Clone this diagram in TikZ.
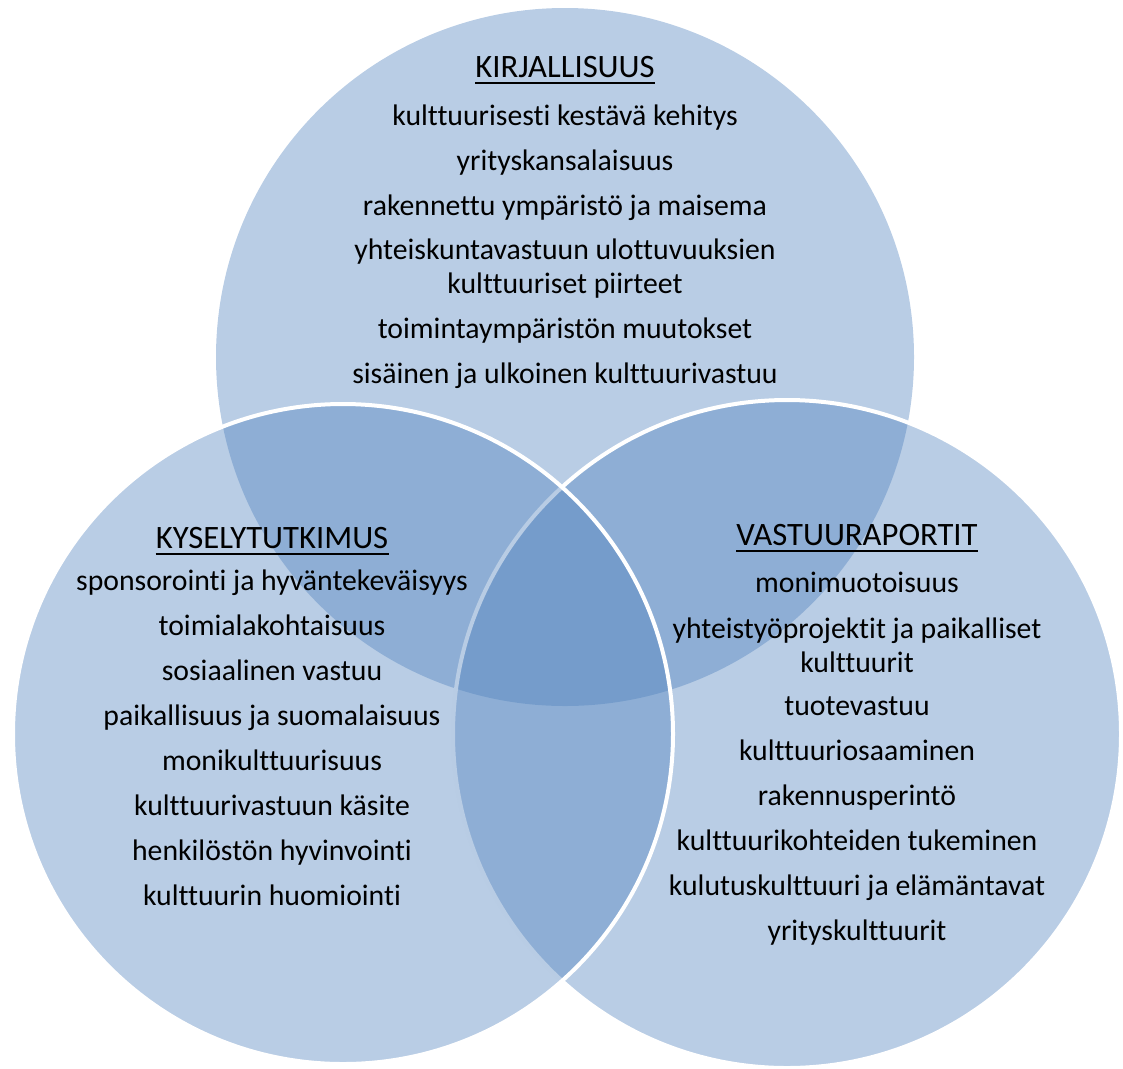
\documentclass[tikz,border=0pt]{standalone}
\usepackage{fontspec}
\setmainfont{Carlito}[Ligatures=NoCommon]
\definecolor{venn}{HTML}{4F81BD}
\begin{document}
\begin{tikzpicture}[x=0.75pt,y=-0.75pt,
  setfill/.style={fill=venn,fill opacity=0.4},
  rim/.style={draw=white,draw opacity=1,line width=3pt},
  head/.style={anchor=base,inner sep=0pt,font=\fontsize{24.5}{28}\selectfont},
  item/.style={anchor=base,inner sep=0pt,font=\fontsize{22.3}{26}\selectfont},
  uline/.style={line width=1.5pt,black}]
\useasboundingbox (0,0) rectangle (1123,1068);

% three overlapping sets: top, right, then left on top
\path[setfill] (565,357) circle[radius=349];
\path[setfill,rim] (787,734) circle[radius=334];
\path[setfill,rim] (343,734) circle[radius=330];

% KIRJALLISUUS
\node[head] (kh) at (565,77) {KIRJALLISUUS};
\draw[uline] ([yshift=-4.5pt]kh.base west) -- ([yshift=-4.5pt]kh.base east);
\node[item] (k1) at (565,125) {kulttuurisesti kestävä kehitys};
\node[item] (k2) at (565,170) {yrityskansalaisuus};
\node[item] (k3) at (565,215) {rakennettu ympäristö ja maisema};
\node[item] (k4) at (565,259) {yhteiskuntavastuun ulottuvuuksien};
\node[item] (k4b) at (565,293) {kulttuuriset piirteet};
\node[item] (k5) at (565,338) {toimintaympäristön muutokset};
\node[item] (k6) at (565,383) {sisäinen ja ulkoinen kulttuurivastuu};

% KYSELYTUTKIMUS
\node[head] (sh) at (272,548) {KYSELYTUTKIMUS};
\draw[uline] ([yshift=-4.5pt]sh.base west) -- ([yshift=-4.5pt]sh.base east);
\node[item] (s1) at (272,590) {sponsorointi ja hyväntekeväisyys};
\node[item] (s2) at (272,635) {toimialakohtaisuus};
\node[item] (s3) at (272,680) {sosiaalinen vastuu};
\node[item] (s4) at (272,725) {paikallisuus ja suomalaisuus};
\node[item] (s5) at (272,770) {monikulttuurisuus};
\node[item] (s6) at (272,815) {kulttuurivastuun käsite};
\node[item] (s7) at (272,860) {henkilöstön hyvinvointi};
\node[item] (s8) at (272,905) {kulttuurin huomiointi};

% VASTUURAPORTIT
\node[head] (vh) at (857,545) {VASTUURAPORTIT};
\draw[uline] ([yshift=-4.5pt]vh.base west) -- ([yshift=-4.5pt]vh.base east);
\node[item] (v1) at (857,592) {monimuotoisuus};
\node[item] (v2) at (857,638) {yhteistyöprojektit ja paikalliset};
\node[item] (v2b) at (857,672) {kulttuurit};
\node[item] (v3) at (857,715) {tuotevastuu};
\node[item] (v4) at (857,760) {kulttuuriosaaminen};
\node[item] (v5) at (857,805) {rakennusperintö};
\node[item] (v6) at (857,850) {kulttuurikohteiden tukeminen};
\node[item] (v7) at (857,895) {kulutuskulttuuri ja elämäntavat};
\node[item] (v8) at (857,940) {yrityskulttuurit};
\end{tikzpicture}
\end{document}
